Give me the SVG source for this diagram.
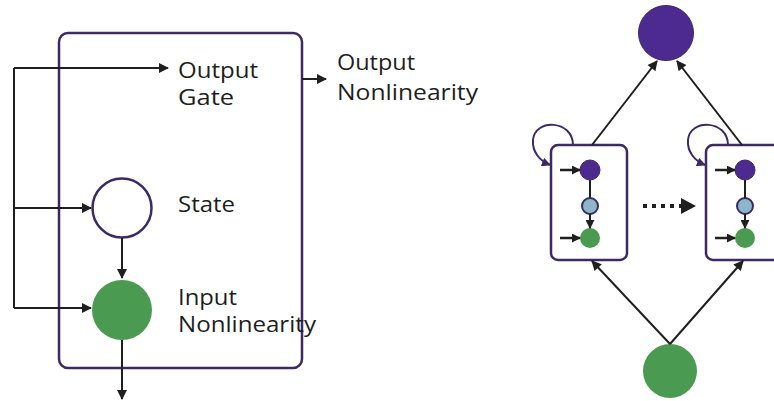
<svg xmlns="http://www.w3.org/2000/svg" width="774" height="401" viewBox="0 0 774 401">
<defs>
<style>
.lbl{font-family:"Open Sans","Noto Sans","Liberation Sans",sans-serif;font-size:22px;font-weight:500;fill:#1e1e1e;}
.box{fill:#fff;stroke:#3b2a63;stroke-width:2.5;}
.ln{fill:none;stroke:#1f1f1f;stroke-width:2;}
.thick{stroke-width:2.5;}
.dots{stroke-width:4;stroke-dasharray:4,5;}
.lnp{fill:none;stroke:#3b2a63;stroke-width:2;}
.purple{fill:#4d2a90;stroke:#3b2a63;stroke-width:1;}
.green{fill:#4b9a51;}
.blue{fill:#8bb7c9;stroke:#3b2a63;stroke-width:2;}
</style>
<marker id="ah" viewBox="0 0 10 10" refX="9" refY="5" markerWidth="11" markerHeight="10" orient="auto" markerUnits="userSpaceOnUse">
<path d="M0,0 L10,5 L0,10 Z" fill="#1f1f1f"/>
</marker>
<marker id="ahs" viewBox="0 0 10 10" refX="9" refY="5" markerWidth="9" markerHeight="9" orient="auto" markerUnits="userSpaceOnUse">
<path d="M0,0 L10,5 L0,10 Z" fill="#1f1f1f"/>
</marker>
<marker id="ahp" viewBox="0 0 10 10" refX="9" refY="5" markerWidth="9" markerHeight="9" orient="auto" markerUnits="userSpaceOnUse">
<path d="M0,0 L10,5 L0,10 Z" fill="#3b2a63"/>
</marker>
</defs>

<g id="cell-box">
<rect class="box" x="59" y="33" width="243" height="335" rx="9"/>
</g>
<g id="output-gate">
<text class="lbl" x="178" y="78" textLength="80" lengthAdjust="spacingAndGlyphs">Output</text>
<text class="lbl" x="178" y="105" textLength="56" lengthAdjust="spacingAndGlyphs">Gate</text>
</g>
<g id="state">
<circle cx="122" cy="208" r="29.5" fill="#fff" stroke="#3b2a63" stroke-width="2.5"/>
<text class="lbl" x="178" y="212" textLength="57" lengthAdjust="spacingAndGlyphs">State</text>
</g>
<g id="input-nonlinearity">
<circle class="green" cx="122" cy="310" r="30"/>
<text class="lbl" x="178" y="305" textLength="59" lengthAdjust="spacingAndGlyphs">Input</text>
<text class="lbl" x="178" y="332" textLength="138" lengthAdjust="spacingAndGlyphs">Nonlinearity</text>
</g>
<g id="output-nonlinearity">
<text class="lbl" x="337" y="70" textLength="78" lengthAdjust="spacingAndGlyphs">Output</text>
<text class="lbl" x="337" y="100" textLength="141" lengthAdjust="spacingAndGlyphs">Nonlinearity</text>
</g>

<g id="top-node"><circle class="purple" cx="666" cy="33" r="27.5"/></g>
<g id="bottom-node"><circle class="green" cx="670" cy="371" r="27"/></g>

<g id="block-left">
<rect class="box" x="551" y="145" width="76" height="115" rx="7"/>
<circle class="purple" cx="590" cy="170" r="10"/>
<circle class="blue" cx="590" cy="206" r="8"/>
<circle class="green" cx="590" cy="238" r="10"/>
</g>
<g id="block-right">
<rect class="box" x="706" y="145" width="76" height="115" rx="7"/>
<circle class="purple" cx="745" cy="170" r="10"/>
<circle class="blue" cx="745" cy="206" r="8"/>
<circle class="green" cx="745" cy="238" r="10"/>
</g>

<g id="connectors">
<path class="ln" d="M14,68 H168" marker-end="url(#ah)"/>
<path class="ln" d="M14,68 V308"/>
<path class="ln" d="M14,208 H91" marker-end="url(#ah)"/>
<path class="ln" d="M14,308 H91" marker-end="url(#ah)"/>
<path class="ln" d="M122,238 V278" marker-end="url(#ah)"/>
<path class="ln" d="M122,340 V399" marker-end="url(#ah)"/>
<path class="ln" d="M302,79 H326" marker-end="url(#ah)"/>

<path class="ln" d="M592,145 L657,61" marker-end="url(#ah)"/>
<path class="ln" d="M742,145 L677,61" marker-end="url(#ah)"/>
<path class="ln" d="M670,344 L592,261" marker-end="url(#ah)"/>
<path class="ln" d="M670,344 L743,261" marker-end="url(#ah)"/>

<path class="ln thick" d="M560,170 H580" marker-end="url(#ahs)"/>
<path class="ln thick" d="M560,238 H580" marker-end="url(#ahs)"/>
<path class="ln" d="M590,180 V198"/>
<path class="ln" d="M590,214 V228" marker-end="url(#ahs)"/>
<path class="ln thick" d="M715,170 H735" marker-end="url(#ahs)"/>
<path class="ln thick" d="M715,238 H735" marker-end="url(#ahs)"/>
<path class="ln" d="M745,180 V198"/>
<path class="ln" d="M745,214 V228" marker-end="url(#ahs)"/>

<path class="ln dots" d="M643,206 H684"/>
<path d="M681,198 L696,206 L681,214 Z" fill="#1f1f1f"/>

<path class="lnp" d="M573,145 C573,120 535,118 533,140 C532,152 540,161 550,165" marker-end="url(#ahp)"/>
<path class="lnp" d="M728,145 C728,120 690,118 688,140 C687,152 695,161 705,165" marker-end="url(#ahp)"/>
</g>
</svg>
